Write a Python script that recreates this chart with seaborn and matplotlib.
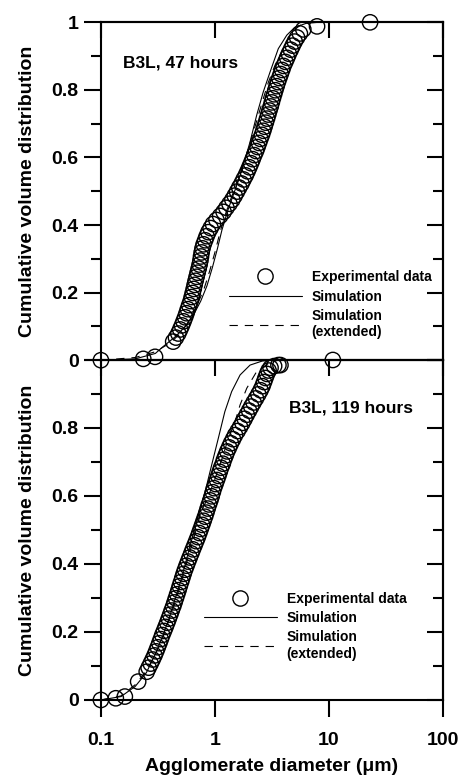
import numpy as np
import pandas as pd
import seaborn as sns
import matplotlib.pyplot as plt
from matplotlib.lines import Line2D
from matplotlib.ticker import FixedLocator, MultipleLocator, NullLocator, FuncFormatter

# ---- B3L, 47 hours: experimental points (diameter um, cumulative fraction)
exp47_d = [0.1, 0.235, 0.298,
           0.430, 0.455, 0.477, 0.495, 0.513, 0.530, 0.547, 0.563, 0.578, 0.594,
           0.612, 0.625, 0.638, 0.651, 0.663, 0.676, 0.690, 0.704, 0.719, 0.733,
           0.745, 0.754, 0.764, 0.777, 0.795, 0.820, 0.845, 0.875, 0.915, 0.960,
           1.03, 1.11, 1.19, 1.26, 1.34, 1.42, 1.49, 1.56, 1.63, 1.71, 1.78, 1.86,
           1.93, 2.00, 2.07, 2.14, 2.21, 2.29, 2.36, 2.43, 2.50, 2.58, 2.65, 2.72,
           2.79, 2.86, 2.93, 3.00, 3.08, 3.15, 3.22, 3.30, 3.38, 3.47, 3.56, 3.66,
           3.77, 3.88, 3.99, 4.14, 4.29, 4.44, 4.62, 4.80, 5.00, 5.25, 5.55, 5.95,
           7.85, 22.9]
exp47_v = [0.0, 0.004, 0.010,
           0.055, 0.067, 0.079, 0.091, 0.103, 0.115, 0.127, 0.139, 0.151, 0.163,
           0.175, 0.187, 0.199, 0.211, 0.223, 0.235, 0.247, 0.259, 0.271, 0.283,
           0.295, 0.307, 0.319, 0.331, 0.343, 0.355, 0.367, 0.379, 0.391, 0.403,
           0.415, 0.427, 0.439, 0.451, 0.463, 0.475, 0.487, 0.499, 0.511, 0.523,
           0.535, 0.547, 0.559, 0.571, 0.583, 0.595, 0.607, 0.619, 0.631, 0.643,
           0.655, 0.667, 0.679, 0.691, 0.703, 0.715, 0.727, 0.739, 0.751, 0.763,
           0.775, 0.787, 0.799, 0.811, 0.823, 0.835, 0.847, 0.859, 0.871, 0.883,
           0.895, 0.907, 0.919, 0.931, 0.943, 0.955, 0.967, 0.979,
           0.988, 1.0]

sim47_d = [0.1, 0.2, 0.3, 0.35, 0.45, 0.55, 0.65, 0.75, 0.85, 0.95, 1.05, 1.15,
           1.3, 1.45, 1.6, 1.77, 2.03, 2.32, 2.65, 3.04, 3.59, 4.26, 5.0, 6.3, 8.0]
sim47_v = [0.0, 0.004, 0.02, 0.04, 0.07, 0.10, 0.135, 0.175, 0.22, 0.275, 0.33,
           0.385, 0.445, 0.49, 0.53, 0.577, 0.646, 0.725, 0.794, 0.853, 0.922,
           0.962, 0.985, 0.997, 1.0]

ext47_d = [0.1, 0.2, 0.3, 0.4, 0.5, 0.6, 0.7, 0.8, 0.9, 1.0, 1.1, 1.2, 1.35,
           1.5, 1.65, 1.77, 1.96, 2.17, 2.40, 2.65, 2.94, 3.36, 3.97, 4.71, 5.57, 7.0]
ext47_v = [0.0, 0.008, 0.025, 0.05, 0.08, 0.12, 0.165, 0.21, 0.265, 0.32, 0.375,
           0.42, 0.47, 0.51, 0.545, 0.577, 0.626, 0.675, 0.725, 0.774, 0.823,
           0.873, 0.922, 0.971, 0.991, 1.0]

# ---- B3L, 119 hours
exp119_d = [0.1, 0.135, 0.162, 0.212,
            0.252, 0.262, 0.273, 0.284, 0.295, 0.305, 0.315, 0.325, 0.335, 0.345,
            0.357, 0.369, 0.381, 0.393, 0.405, 0.417, 0.430, 0.442, 0.454, 0.466,
            0.479, 0.491, 0.504, 0.517, 0.531, 0.546, 0.563, 0.581, 0.600, 0.620,
            0.640, 0.662, 0.684, 0.707, 0.728, 0.750, 0.772, 0.795, 0.818, 0.840,
            0.862, 0.885, 0.910, 0.935, 0.957, 0.980, 1.01, 1.04, 1.07, 1.10,
            1.13, 1.17, 1.20, 1.24, 1.28, 1.33, 1.38, 1.44, 1.50, 1.58, 1.66,
            1.74, 1.82, 1.90, 1.99, 2.08, 2.18, 2.29, 2.40, 2.51, 2.61, 2.69,
            2.77, 2.86, 2.95, 3.07, 3.3, 3.6, 3.75, 10.8]
exp119_v = [0.0, 0.005, 0.010, 0.054,
            0.083, 0.095, 0.107, 0.119, 0.131, 0.143, 0.155, 0.167, 0.179, 0.191,
            0.203, 0.215, 0.227, 0.239, 0.251, 0.263, 0.275, 0.287, 0.299, 0.311,
            0.323, 0.335, 0.347, 0.359, 0.371, 0.383, 0.395, 0.407, 0.419, 0.431,
            0.443, 0.455, 0.467, 0.479, 0.491, 0.503, 0.515, 0.527, 0.539, 0.551,
            0.563, 0.575, 0.587, 0.599, 0.611, 0.623, 0.635, 0.647, 0.659, 0.671,
            0.683, 0.695, 0.707, 0.719, 0.731, 0.743, 0.755, 0.767, 0.779, 0.791,
            0.803, 0.815, 0.827, 0.839, 0.851, 0.863, 0.875, 0.887, 0.899, 0.911,
            0.923, 0.935, 0.947, 0.959, 0.969, 0.977, 0.982, 0.985, 0.985, 1.0]

sim119_d = [0.1, 0.15, 0.2, 0.25, 0.3, 0.35, 0.4, 0.45, 0.5, 0.55, 0.6, 0.65,
            0.72, 0.82, 0.935, 1.07, 1.22, 1.40, 1.66, 2.03, 2.6, 3.3]
sim119_v = [0.0, 0.01, 0.04, 0.08, 0.135, 0.19, 0.245, 0.30, 0.35, 0.40, 0.45,
            0.49, 0.545, 0.613, 0.691, 0.77, 0.848, 0.907, 0.956, 0.985, 0.997, 1.0]

ext119_d = [0.1, 0.15, 0.2, 0.25, 0.3, 0.35, 0.4, 0.45, 0.5, 0.55, 0.6, 0.67,
            0.75, 0.85, 0.95, 1.03, 1.18, 1.31, 1.50, 1.66, 1.90, 2.32, 2.94, 3.6]
ext119_v = [0.0, 0.012, 0.045, 0.085, 0.135, 0.185, 0.24, 0.29, 0.34, 0.39,
            0.435, 0.49, 0.55, 0.59, 0.63, 0.662, 0.72, 0.77, 0.819, 0.868, 0.917,
            0.966, 0.99, 1.0]

panels = [
    ("B3L, 47 hours", exp47_d, exp47_v, sim47_d, sim47_v, ext47_d, ext47_v),
    ("B3L, 119 hours", exp119_d, exp119_v, sim119_d, sim119_v, ext119_d, ext119_v),
]

sns.set_style("ticks")
plt.rcParams["font.family"] = ["Liberation Sans", "DejaVu Sans"]
plt.rcParams["font.weight"] = "bold"
plt.rcParams["axes.labelweight"] = "bold"
plt.rcParams["axes.edgecolor"] = "black"
plt.rcParams["xtick.color"] = "black"
plt.rcParams["ytick.color"] = "black"
plt.rcParams["text.color"] = "black"
plt.rcParams["axes.labelcolor"] = "black"
plt.rcParams["lines.scale_dashes"] = False

fig = plt.figure(figsize=(4.63, 7.78), dpi=100)
fig.patch.set_facecolor("white")
left, width = 0.218, 0.739
ax_top = fig.add_axes([left, 0.537, width, 0.4343])
ax_bot = fig.add_axes([left, 0.1003, width, 0.437])
axes = [ax_top, ax_bot]

dash = (0, (6, 5))
lab_pos = [(0.156, 0.879), (4.46, 0.859)]
leg_pos = [(0.374, 0.266), (0.301, 0.318)]

for i, (ax, (title, ed, ev, sd, sv, xd, xv)) in enumerate(zip(axes, panels)):
    ax.patch.set_alpha(0)
    sns.lineplot(x=sd, y=sv, ax=ax, color="black", lw=0.8, sort=False,
                 estimator=None)
    sns.lineplot(x=xd, y=xv, ax=ax, color="black", lw=0.8, sort=False,
                 estimator=None, linestyle=dash)
    sns.scatterplot(x=ed, y=ev, ax=ax, marker="o", s=122, linewidth=1.0,
                    edgecolor="black", zorder=5)
    for c in ax.collections:
        c.set_facecolor("none")
        c.set_edgecolor("black")
        c.set_clip_on(False)
    for ln in ax.lines:
        ln.set_clip_on(False)

    ax.set_xscale("log")
    ax.set_xlim(0.1, 100)
    ax.set_ylim(0, 1)
    for s in ax.spines.values():
        s.set_linewidth(1.5)
        s.set_zorder(3)

    ax.xaxis.set_major_locator(FixedLocator([0.1, 1, 10, 100]))
    ax.xaxis.set_minor_locator(NullLocator())
    ax.xaxis.set_major_formatter(FuncFormatter(lambda v, p: "%g" % v))
    ax.yaxis.set_major_locator(MultipleLocator(0.2))
    ax.yaxis.set_minor_locator(MultipleLocator(0.1))
    if i == 0:
        ax.yaxis.set_major_formatter(FuncFormatter(lambda v, p: "%g" % round(v, 1)))
    else:
        ax.yaxis.set_major_formatter(
            FuncFormatter(lambda v, p: "" if v > 0.95 else "%g" % round(v, 1)))

    ax.tick_params(axis="y", which="major", direction="out", length=12, width=1.5,
                   labelsize=14, pad=4, right=False)
    ax.tick_params(axis="y", which="minor", direction="out", length=7, width=1.5,
                   right=False)
    ax.tick_params(axis="x", which="major", direction="out", length=12, width=1.5,
                   labelsize=14, pad=11, top=False)

    # inward ticks on the right and top edges
    sec_y = ax.secondary_yaxis("right")
    sec_y.yaxis.set_major_locator(MultipleLocator(0.2))
    sec_y.yaxis.set_minor_locator(MultipleLocator(0.1))
    sec_y.tick_params(which="major", direction="in", length=11.5, width=1.5,
                      labelright=False)
    sec_y.tick_params(which="minor", direction="in", length=7, width=1.5)
    sec_y.spines["right"].set_linewidth(1.5)
    sec_x = ax.secondary_xaxis("top")
    sec_x.set_xscale("log")
    sec_x.xaxis.set_major_locator(FixedLocator([0.1, 1, 10, 100]))
    sec_x.xaxis.set_minor_locator(NullLocator())
    sec_x.tick_params(which="major", direction="in", length=11.5, width=1.5,
                      labeltop=False)
    sec_x.spines["top"].set_linewidth(1.5)

    ax.set_ylabel("Cumulative volume distribution", fontsize=14, fontweight="bold")
    ax.yaxis.set_label_coords(-0.19, 0.5)
    ax.text(lab_pos[i][0], lab_pos[i][1], title, fontsize=12.5, fontweight="bold",
            ha="left", va="center")

    handles = [
        Line2D([], [], marker="o", ls="none", mfc="none", mec="black", ms=11,
               mew=1.0),
        Line2D([], [], color="black", lw=0.8),
        Line2D([], [], color="black", lw=0.8, linestyle=dash),
    ]
    ax.legend(handles, ["Experimental data", "Simulation", "Simulation\n(extended)"],
              loc="upper left", bbox_to_anchor=leg_pos[i], frameon=False,
              prop={"size": 10, "weight": "bold"}, handlelength=5.25,
              handletextpad=0.7, labelspacing=0.38, borderpad=0, borderaxespad=0,
              numpoints=1)

ax_top.tick_params(axis="x", bottom=False, labelbottom=False)
ax_top.set_xlabel("")
ax_bot.set_xlabel("Agglomerate diameter (\u03bcm)", fontsize=14, fontweight="bold")
ax_bot.xaxis.set_label_coords(0.5, -0.17)

fig.savefig("out.png", dpi=100, facecolor="white")
